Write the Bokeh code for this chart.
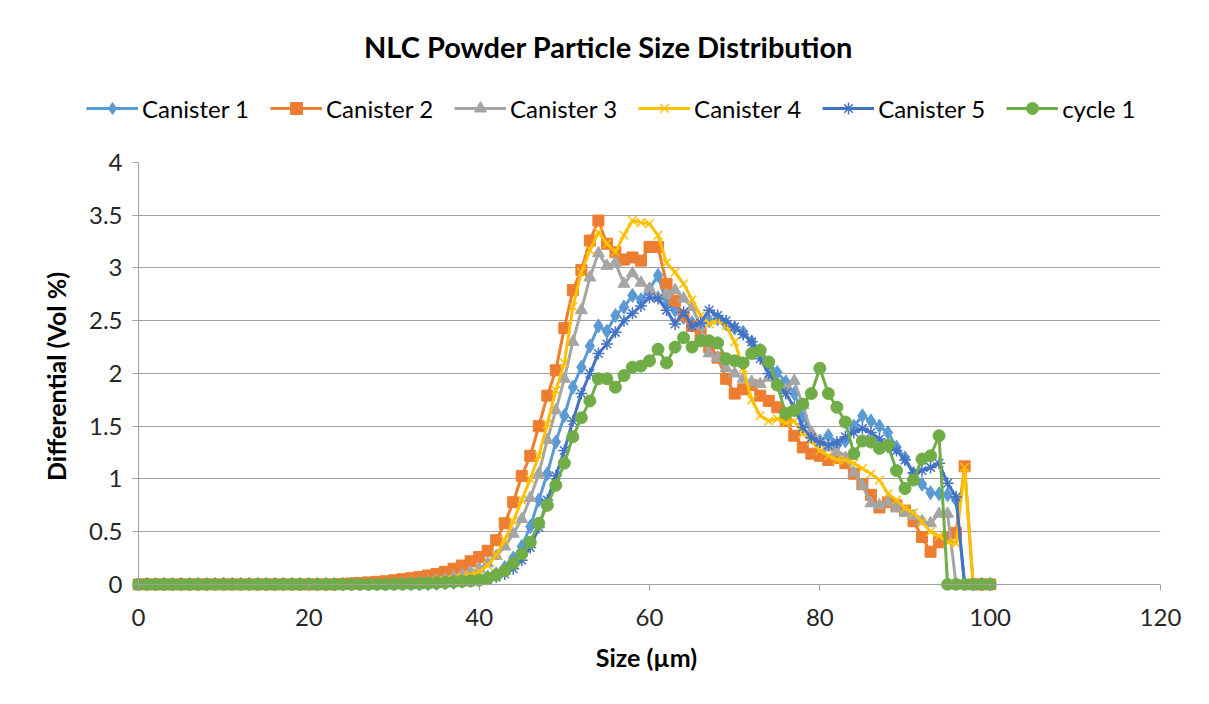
from bokeh.plotting import figure
from bokeh.layouts import column, row
from bokeh.models import Legend, LegendItem, Range1d, FixedTicker, Span, Label
from bokeh.embed import file_html
from bokeh.resources import INLINE

# ---------------- data ----------------
size_um = [
    0, 1, 2, 3, 4, 5, 6, 7, 8, 9,
    10, 11, 12, 13, 14, 15, 16, 17, 18, 19,
    20, 21, 22, 23, 24, 25, 26, 27, 28, 29,
    30, 31, 32, 33, 34, 35, 36, 37, 38, 39,
    40, 41, 42, 43, 44, 45, 46, 47, 48, 49,
    50, 51, 52, 53, 54, 55, 56, 57, 58, 59,
    60, 61, 62, 63, 64, 65, 66, 67, 68, 69,
    70, 71, 72, 73, 74, 75, 76, 77, 78, 79,
    80, 81, 82, 83, 84, 85, 86, 87, 88, 89,
    90, 91, 92, 93, 94, 95, 96, 97, 98, 99,
    100,
]

canister_1 = [
    0, 0, 0, 0, 0, 0, 0, 0, 0, 0,
    0, 0, 0, 0, 0, 0, 0, 0, 0, 0,
    0, 0, 0, 0, 0, 0, 0, 0, 0, 0,
    0, 0, 0, 0, 0.005, 0.01, 0.015, 0.02, 0.03, 0.04,
    0.05, 0.07, 0.1, 0.16, 0.25, 0.36, 0.55, 0.8, 1.05, 1.35,
    1.6, 1.87, 2.06, 2.26, 2.45, 2.4, 2.55, 2.63, 2.74, 2.7,
    2.8, 2.93, 2.66, 2.6, 2.53, 2.48, 2.45, 2.5, 2.52, 2.47,
    2.43, 2.39, 2.3, 2.22, 2.1, 2.01, 1.92, 1.81, 1.6, 1.43,
    1.36, 1.41, 1.32, 1.36, 1.5, 1.6, 1.55, 1.5, 1.44, 1.3,
    1.2, 1.05, 0.95, 0.87, 0.86, 0.85, 0.8, 0, 0, 0,
    0,
]

canister_2 = [
    0, 0, 0, 0, 0, 0, 0, 0, 0, 0,
    0, 0, 0, 0, 0, 0, 0, 0, 0, 0,
    0, 0, 0, 0, 0.005, 0.01, 0.015, 0.02, 0.025, 0.03,
    0.04, 0.05, 0.06, 0.07, 0.085, 0.1, 0.12, 0.15, 0.18, 0.22,
    0.26, 0.32, 0.42, 0.58, 0.78, 1.03, 1.22, 1.5, 1.79, 2.03,
    2.43, 2.79, 2.98, 3.26, 3.45, 3.23, 3.15, 3.08, 3.1, 3.07,
    3.2, 3.2, 2.85, 2.69, 2.55, 2.45, 2.38, 2.25, 2.15, 1.95,
    1.81, 1.85, 1.89, 1.79, 1.74, 1.68, 1.55, 1.41, 1.3, 1.24,
    1.22, 1.18, 1.2, 1.15, 1.05, 0.95, 0.85, 0.73, 0.78, 0.75,
    0.7, 0.6, 0.45, 0.31, 0.4, 0.45, 0.49, 1.12, 0, 0,
    0,
]

canister_3 = [
    0, 0, 0, 0, 0, 0, 0, 0, 0, 0,
    0, 0, 0, 0, 0, 0, 0, 0, 0, 0,
    0, 0, 0, 0, 0, 0, 0, 0, 0, 0,
    0.005, 0.01, 0.015, 0.02, 0.03, 0.04, 0.05, 0.07, 0.09, 0.12,
    0.15, 0.2, 0.27, 0.36, 0.48, 0.62, 0.82, 1.05, 1.37, 1.65,
    1.95, 2.3, 2.6, 2.91, 3.14, 3.02, 3.05, 2.85, 2.95, 2.86,
    2.8, 2.72, 2.75, 2.79, 2.71, 2.63, 2.45, 2.19, 2.15, 2.05,
    2.0, 1.95, 1.92, 1.9, 1.96, 1.9, 1.85, 1.93, 1.7, 1.44,
    1.35, 1.3, 1.25, 1.2, 1.06, 0.94, 0.77, 0.75, 0.78, 0.72,
    0.68, 0.65, 0.6, 0.58, 0.67, 0.67, 0, 0, 0, 0,
    0,
]

canister_4 = [
    0, 0, 0, 0, 0, 0, 0, 0, 0, 0,
    0, 0, 0, 0, 0, 0, 0, 0, 0, 0,
    0, 0, 0, 0, 0, 0, 0, 0, 0, 0,
    0, 0.005, 0.01, 0.015, 0.02, 0.03, 0.04, 0.05, 0.07, 0.09,
    0.12, 0.18, 0.28, 0.42, 0.6, 0.8, 1.0, 1.22, 1.52, 1.84,
    2.1, 2.63, 2.96, 3.17, 3.34, 3.23, 3.15, 3.31, 3.45, 3.43,
    3.42, 3.31, 3.05, 2.96, 2.85, 2.7, 2.55, 2.47, 2.5, 2.45,
    2.3, 2.05, 1.75, 1.6, 1.55, 1.57, 1.53, 1.55, 1.43, 1.36,
    1.27, 1.22, 1.18, 1.18, 1.15, 1.1, 1.05, 0.99, 0.86, 0.8,
    0.72, 0.68, 0.59, 0.5, 0.46, 0.4, 0.39, 1.11, 0, 0,
    0,
]

canister_5 = [
    0, 0, 0, 0, 0, 0, 0, 0, 0, 0,
    0, 0, 0, 0, 0, 0, 0, 0, 0, 0,
    0, 0, 0, 0, 0, 0, 0, 0, 0, 0,
    0, 0, 0, 0, 0.005, 0.01, 0.015, 0.02, 0.025, 0.03,
    0.04, 0.05, 0.07, 0.1, 0.15, 0.23, 0.35, 0.54, 0.8, 1.03,
    1.27, 1.55, 1.81, 2.0, 2.19, 2.28, 2.39, 2.5, 2.57, 2.64,
    2.72, 2.71, 2.6, 2.47, 2.58, 2.45, 2.48, 2.6, 2.55, 2.5,
    2.44, 2.37, 2.3, 2.14, 2.0, 1.9, 1.81, 1.68, 1.49, 1.39,
    1.35, 1.32, 1.35, 1.4, 1.44, 1.48, 1.44, 1.38, 1.3, 1.27,
    1.18, 1.06, 1.08, 1.11, 1.15, 0.96, 0.83, 0, 0, 0,
    0,
]

cycle_1 = [
    0, 0, 0, 0, 0, 0, 0, 0, 0, 0,
    0, 0, 0, 0, 0, 0, 0, 0, 0, 0,
    0, 0, 0, 0, 0, 0, 0, 0, 0, 0,
    0.003, 0.005, 0.007, 0.01, 0.012, 0.015, 0.02, 0.025, 0.03, 0.035,
    0.04, 0.06, 0.09, 0.13, 0.2, 0.29, 0.4, 0.58, 0.75, 0.94,
    1.15, 1.4, 1.58, 1.74, 1.95, 1.95, 1.87, 1.98, 2.06, 2.07,
    2.12, 2.23, 2.1, 2.25, 2.34, 2.25, 2.31, 2.31, 2.29, 2.14,
    2.12, 2.1, 2.19, 2.22, 2.11, 1.89, 1.62, 1.65, 1.71, 1.81,
    2.05, 1.81, 1.68, 1.54, 1.24, 1.36, 1.35, 1.29, 1.32, 1.08,
    0.91, 0.99, 1.19, 1.22, 1.41, 0, 0, 0, 0, 0,
    0,
]

series_names = ["Canister 1", "Canister 2", "Canister 3", "Canister 4", "Canister 5", "cycle 1"]
series_values = [canister_1, canister_2, canister_3, canister_4, canister_5, cycle_1]
series_colors = ["#5B9BD5", "#ED7D31", "#A5A5A5", "#FFC000", "#4472C4", "#70AD47"]
series_markers = ["diamond", "square", "triangle", "x", "asterisk", "circle"]
marker_sizes = [14, 11, 12, 12, 12, 12]
marker_filled = [True, True, True, False, False, True]

chart_title = "NLC Powder Particle Size Distribution"
x_label = "Size (µm)"
y_label = "Differential (Vol %)"
x_ticks = [0, 20, 40, 60, 80, 100, 120]
y_ticks = [0, 0.5, 1, 1.5, 2, 2.5, 3, 3.5, 4]
y_tick_labels = ["0", "0.5", "1", "1.5", "2", "2.5", "3", "3.5", "4"]

FONT = "Lato"
W = 1209
HEAD_H = 130
MAIN_H = 704 - HEAD_H
NAN = float("nan")

# ---------------- header: title + legend ----------------
head = figure(
    width=W, height=HEAD_H, output_backend="svg", toolbar_location=None,
    x_range=Range1d(0, W), y_range=Range1d(HEAD_H, 0),
    x_axis_location=None, y_axis_location=None, min_border=0,
    outline_line_color=None, background_fill_color="white", border_fill_color="white",
)
head.grid.visible = False
head.add_layout(Label(
    x=608, y=46, text=chart_title, text_align="center", text_baseline="middle",
    text_font=FONT, text_font_size="29px", text_font_style="bold", text_color="#000000",
))

items = []
for name, col, mk, ms, filled in zip(series_names, series_colors, series_markers,
                                     marker_sizes, marker_filled):
    # legend swatches only (no visible data in the header)
    rl = head.line([NAN], [NAN], line_color=col, line_width=3)
    rm = head.scatter([NAN], [NAN], marker=mk, size=ms, line_color=col,
                      fill_color=col if filled else None, line_width=1 if filled else 1.5)
    items.append(LegendItem(label=name, renderers=[rl, rm]))

legend = Legend(
    items=items, orientation="horizontal", location=(86, 7),
    label_text_font=FONT, label_text_font_size="24px", label_text_color="#000000",
    glyph_width=52, glyph_height=30, spacing=21, label_standoff=4,
    border_line_color=None, background_fill_alpha=0, padding=0, margin=0,
)
head.add_layout(legend)

# ---------------- main plot ----------------
p = figure(
    width=W, height=MAIN_H, title=None,
    output_backend="svg", toolbar_location=None,
    x_range=Range1d(-0.7045, 120), y_range=Range1d(-0.0569, 4),
    min_border_left=132, min_border_right=49,
    min_border_top=32, min_border_bottom=114,
    background_fill_color="white", border_fill_color="white",
    outline_line_color=None,
)

for ax in (p.xaxis[0], p.yaxis[0]):
    ax.axis_line_color = None
    ax.major_tick_out = 0
    ax.major_tick_in = 6
    ax.minor_tick_in = 0
    ax.minor_tick_out = 0
    ax.major_tick_line_color = "#A0A0A0"
    ax.major_label_text_font = FONT
    ax.major_label_text_font_size = "24px"
    ax.major_label_text_color = "#262626"
    ax.axis_label_text_font = FONT
    ax.axis_label_text_font_size = "25px"
    ax.axis_label_text_font_style = "bold"
    ax.axis_label_text_color = "#000000"

p.xaxis.ticker = FixedTicker(ticks=x_ticks)
p.yaxis.ticker = FixedTicker(ticks=y_ticks)
p.yaxis.major_label_overrides = {t: s for t, s in zip(y_ticks, y_tick_labels)}
p.xaxis.major_label_overrides = {t: str(t) for t in x_ticks}
p.xaxis.axis_label = x_label
p.yaxis.axis_label = y_label
p.xaxis.major_label_standoff = 18
p.xaxis.axis_label_standoff = 13
p.yaxis.major_label_standoff = 10
p.yaxis.axis_label_standoff = 15

p.xgrid.grid_line_color = None
p.ygrid.ticker = FixedTicker(ticks=y_ticks[1:])
p.ygrid.grid_line_color = "#A0A0A0"
p.ygrid.grid_line_width = 1

p.add_layout(Span(location=0, dimension="width", line_color="#A0A0A0", line_width=1))
p.add_layout(Span(location=0, dimension="height", line_color="#A0A0A0", line_width=1))

for vals, col, mk, ms, filled in zip(series_values, series_colors, series_markers,
                                     marker_sizes, marker_filled):
    p.line(size_um, vals, line_color=col, line_width=3)
    p.scatter(size_um, vals, marker=mk, size=ms, line_color=col,
              fill_color=col if filled else None, line_width=1 if filled else 1.5)

layout = column(row(head), p, spacing=0)
open("out.html", "w").write(file_html(layout, INLINE))
